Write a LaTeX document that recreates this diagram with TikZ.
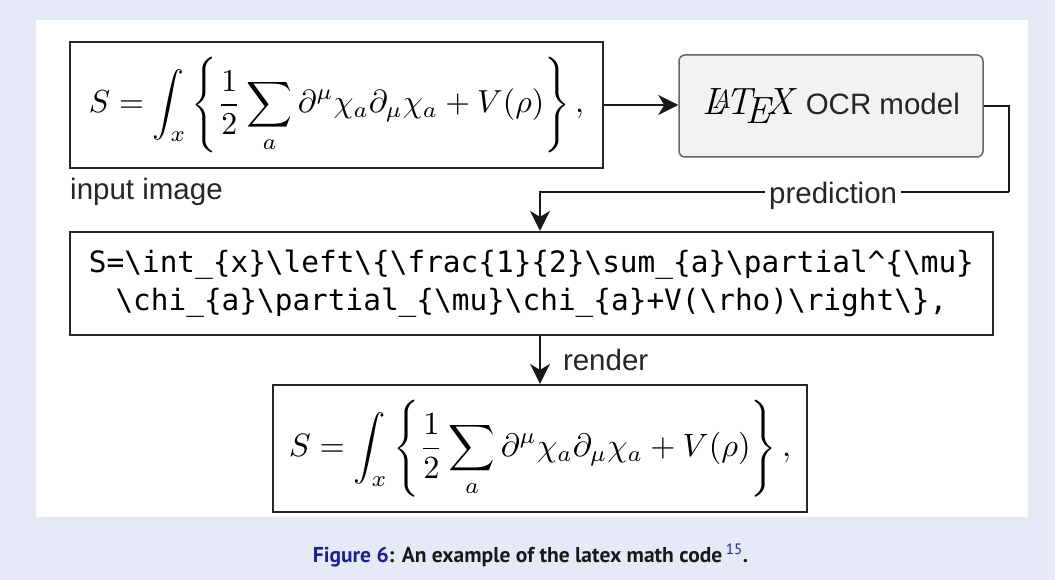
\documentclass[tikz,border=0pt]{standalone}
\usepackage{amsmath}
\usepackage{fontspec}
\usetikzlibrary{arrows.meta}
\newfontfamily\arialf{Liberation Sans}
\newfontfamily\monof{DejaVu Sans Mono}
\newfontfamily\capf{PT Sans}
\definecolor{bgcol}{RGB}{229,234,246}
\definecolor{capblue}{RGB}{28,32,150}
\definecolor{captext}{RGB}{25,25,25}
\newcommand{\eqS}{$\displaystyle S=\int_x\left\{\frac{1}{2}\sum_a\partial^\mu\chi_a\partial_\mu\chi_a+V(\rho)\right\},$}
\newcommand{\bs}{\textbackslash}
\tikzset{
  box/.style={draw=black!85, line width=2.2pt, inner sep=0pt},
  ocrbox/.style={draw=black!60, fill=black!5, line width=1.5pt, rounded corners=6pt, inner sep=0pt},
  conn/.style={line width=2pt, black!90, -{Stealth[length=20pt,width=20pt,inset=6pt]}},
  plainline/.style={line width=2pt, black!90},
  lbl/.style={font={\arialf\fontsize{29.5}{32}\selectfont}, inner sep=0pt, text=black!85},
}
\begin{document}
\begin{tikzpicture}[x=1pt,y=-1pt]
\useasboundingbox (0,0) rectangle (1055,580);
\fill[bgcol] (0,0) rectangle (1055,580);
\fill[white] (36,20) rectangle (1028,517);

% boxes
\node[box, minimum width=533pt, minimum height=126pt] (inimg) at (336.5,105)
  {\resizebox{495pt}{!}{\eqS}};
\node[ocrbox, minimum width=304pt, minimum height=102pt] (ocr) at (831,106)
  {{\fontsize{38}{40}\selectfont\itshape\LaTeX}\hspace{12pt}{\arialf\fontsize{29.5}{32}\selectfont\color{black!85}OCR model}};
\node[box, minimum width=923pt, minimum height=103pt, align=center,
      font={\monof\fontsize{29.4}{37.5}\selectfont}] (code) at (531.5,283.5)
  {S=\bs int\_\{x\}\bs left\bs \{\bs frac\{1\}\{2\}\bs sum\_\{a\}\bs partial\textasciicircum\{\bs mu\}\\
   \bs chi\_\{a\}\bs partial\_\{\bs mu\}\bs chi\_\{a\}+V(\bs rho)\bs right\bs \},};
\node[box, minimum width=534pt, minimum height=127pt] (out) at (540,448.5)
  {\resizebox{502pt}{!}{\eqS}};

% labels
\node[lbl, anchor=base west] (inlbl) at (70,200) {input image};

% connectors
\coordinate (c1) at (1009,192);
\coordinate (c2) at (540,192);
\draw[conn] (inimg.east) -- (inimg.east -| ocr.west);
\draw[plainline] (ocr.east) -| (c1);
\draw[conn] (c1) -- node[lbl, pos=0.375, anchor=base, yshift=-11.5pt, fill=white, inner xsep=4pt, inner ysep=1pt] {prediction} (c2) -- (c2 |- code.north);
\draw[conn] (out.north |- code.south) -- node[lbl, anchor=base west, xshift=22pt, yshift=-10.5pt] {render} (out.north);

% caption
\node[font={\capf\bfseries\fontsize{21.5}{24}\selectfont}, text=captext, inner sep=0pt, anchor=base] (cap) at (530.5,562)
  {\textcolor{capblue}{Figure 6}: An example of the latex math code\,\textsuperscript{\textcolor{capblue}{\mdseries 15}}.};
\end{tikzpicture}
\end{document}
